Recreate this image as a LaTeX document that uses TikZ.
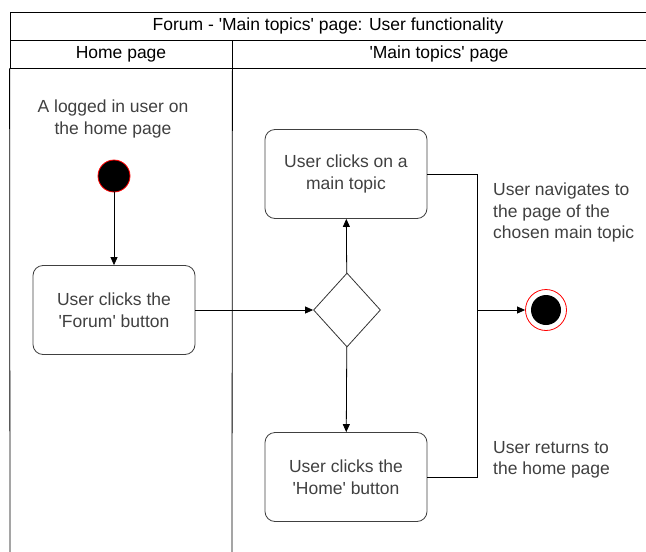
\documentclass[tikz,border=0pt]{standalone}
\usepackage{fontspec}
\setmainfont{Liberation Sans}[Ligatures=TeXOff]
\usetikzlibrary{arrows.meta, positioning, shapes.geometric}

\begin{document}
\begin{tikzpicture}[
  x=1pt, y=-1pt,
  lane/.style={rectangle, draw, thick, inner sep=0pt, minimum height=28pt,
               font=\fontsize{17.5}{20}\selectfont},
  act/.style={rectangle, draw=black!75, thick, rounded corners=10pt,
              minimum width=162pt, minimum height=89pt, align=center,
              text=black!75, font=\fontsize{17.5}{21.5}\selectfont},
  note/.style={align=left, text=black!75, inner sep=0pt,
               font=\fontsize{17.5}{21.5}\selectfont},
  choice/.style={diamond, draw=black!80, thick, minimum width=67pt,
                 minimum height=74pt, inner sep=0pt, aspect=0.9},
  start/.style={circle, fill=black, draw=red, thick, minimum size=32pt,
                inner sep=0pt},
  stop/.style={circle, draw=red, thick, minimum size=41pt, inner sep=0pt,
               path picture={\fill[black] (path picture bounding box.center)
                 circle (15pt);}},
  arrow/.style={-{Triangle[length=8pt, width=7pt]}, thick},
  flow/.style={thick},
]
\useasboundingbox (0,0) rectangle (646,552);

% ---- swimlanes ----
\node[lane, minimum width=636pt] (title) at (328,26)
      {Forum - 'Main topics' page: User functionality};
\node[lane, minimum width=222pt] (lane-home) at (121,54) {Home page};
\node[lane, minimum width=414pt] (lane-main) at (439,54) {'Main topics' page};
\draw[thick] (lane-home.south west) -- (10,552);
\draw[thick] (lane-home.south east) -- (232,552);

% ---- home page ----
\node[note, align=center] (t-start) at (113,119)
      {A logged in user on\\the home page};
\node[start] (start) at (114,176) {};
\node[act] (forum) at (114,310) {User clicks the\\'Forum' button};

% ---- main topics page ----
\node[choice] (choice) at (347,310) {};
\node[act] (topic) at (346,174) {User clicks on a\\main topic};
\node[act] (home)  at (346,477) {User clicks the\\'Home' button};
\coordinate (join) at (477,310);
\node[stop] (stop) at (546,310) {};

\node[note, anchor=north west] (t-topic) at (493,183)
      {User navigates to\\the page of the\\chosen main topic};
\node[note, anchor=north west] (t-home) at (493,441)
      {User returns to\\the home page};

% ---- connectors ----
\draw[arrow] (start) -- (forum);
\draw[arrow] (forum) -- (choice);
\draw[arrow] (choice) -- (topic);
\draw[arrow] (choice) -- (home);
\draw[flow] (topic.east) -| (join);
\draw[flow] (home.east) -| (join);
\draw[arrow] (join) -- (stop);

\end{tikzpicture}
\end{document}
